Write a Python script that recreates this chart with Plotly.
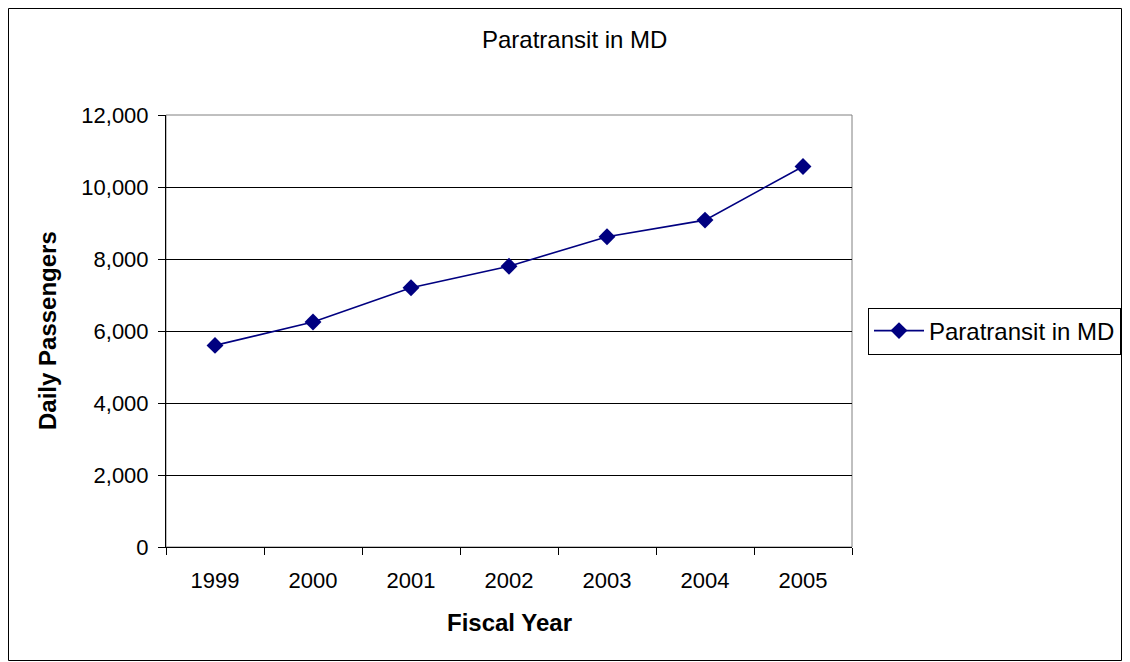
import plotly.graph_objects as go

years = ["1999", "2000", "2001", "2002", "2003", "2004", "2005"]
passengers = [5600, 6250, 7200, 7800, 8620, 9080, 10570]
series_name = "Paratransit in MD"
chart_title = "Paratransit in MD"
x_title = "Fiscal Year"
y_title = "Daily Passengers"

OFF = 8  # page body margin offset
W, H = 1130 - 2 * OFF, 662 - OFF
# plot area in page pixels
L, R, T, B = 166, 852, 115, 547
FONT = "Liberation Sans, Arial, sans-serif"

def px_x(p):
    return (p - L) / (R - L)

def px_y(p):
    return (B - p) / (B - T)

fig = go.Figure()
fig.add_trace(go.Scatter(
    x=years, y=passengers, name=series_name, mode="lines+markers",
    line=dict(color="#000080", width=1.6),
    marker=dict(symbol="diamond", size=13, color="#000080"),
))

fig.update_layout(
    width=W, height=H,
    margin=dict(l=L - OFF, r=W - (R - OFF), t=T - OFF, b=H - (B - OFF),
                pad=0, autoexpand=False),
    paper_bgcolor="white", plot_bgcolor="white",
    font=dict(family=FONT, color="black", size=22),
    showlegend=True,
    legend=dict(
        x=px_x(868), y=px_y(331), xanchor="left", yanchor="middle",
        bordercolor="black", borderwidth=1, bgcolor="white",
        font=dict(size=24, family=FONT), itemwidth=50,
    ),
    xaxis=dict(
        type="category", range=[-0.5, 6.5], tickson="boundaries",
        ticks="outside", ticklen=7, tickcolor="black", tickwidth=1,
        showline=True, linecolor="black", linewidth=1,
        showgrid=False, zeroline=False, ticklabelstandoff=14,
        tickfont=dict(size=22),
    ),
    yaxis=dict(
        range=[0, 12000], dtick=2000, tickformat=",d",
        ticks="outside", ticklen=7, tickcolor="black", tickwidth=1,
        showline=True, linecolor="black", linewidth=1,
        showgrid=True, gridcolor="black", gridwidth=1,
        zeroline=False, ticklabelstandoff=5,
        tickfont=dict(size=22),
    ),
    shapes=[
        dict(type="rect", xref="paper", yref="paper", x0=0, x1=1, y0=0, y1=1,
             line=dict(color="#808080", width=1), layer="below"),
        dict(type="rect", xref="paper", yref="paper",
             x0=px_x(8.5), x1=px_x(1121.5), y0=px_y(660.5), y1=px_y(8.5),
             line=dict(color="black", width=1)),
    ],
    annotations=[
        dict(text=chart_title, xref="paper", yref="paper", x=px_x(574), y=px_y(40),
             xanchor="center", yanchor="middle", showarrow=False,
             font=dict(size=24, family=FONT)),
        dict(text="<b>" + x_title + "</b>", xref="paper", yref="paper",
             x=px_x(509), y=px_y(622), xanchor="center", yanchor="middle",
             showarrow=False, font=dict(size=24, family=FONT)),
        dict(text="<b>" + y_title + "</b>", xref="paper", yref="paper",
             x=px_x(47), y=px_y(331), xanchor="center", yanchor="middle",
             textangle=-90, showarrow=False, font=dict(size=24, family=FONT)),
    ],
)

fig.write_html("out.html")
